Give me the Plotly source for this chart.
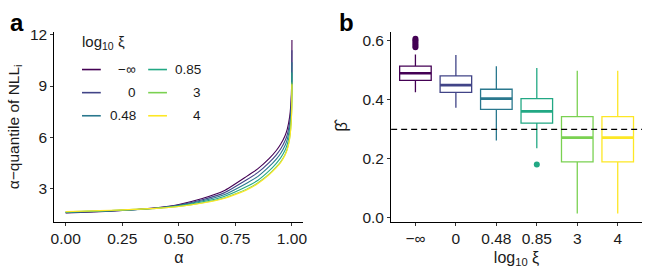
import plotly.graph_objects as go

# ---------------- data ----------------
xi_labels = ["\u2212\u221e", "0", "0.48", "0.85", "3", "4"]
colors = ["#440154", "#414487", "#2A788E", "#22A884", "#7AD151", "#FDE725"]

alpha = [0, 0.1, 0.2, 0.3, 0.4, 0.5, 0.6, 0.7, 0.8, 0.85, 0.9, 0.93, 0.95,
         0.97, 0.98, 0.99, 0.995, 0.999, 1.0]
q_neginf = [1.55, 1.60, 1.66, 1.74, 1.85, 2.05, 2.38, 2.85, 3.70, 4.15, 4.75,
            5.20, 5.58, 6.10, 6.50, 7.20, 7.90, 9.20, 11.7]
q_0 = [1.57, 1.62, 1.67, 1.74, 1.84, 2.01, 2.31, 2.73, 3.50, 3.93, 4.52,
       4.95, 5.30, 5.80, 6.18, 6.85, 7.55, 8.85, 11.1]
q_048 = [1.58, 1.63, 1.68, 1.74, 1.83, 1.99, 2.25, 2.62, 3.30, 3.70, 4.28,
         4.70, 5.04, 5.52, 5.90, 6.55, 7.20, 8.40, 10.4]
q_085 = [1.60, 1.65, 1.69, 1.75, 1.83, 1.97, 2.19, 2.52, 3.10, 3.47, 4.03,
         4.45, 4.78, 5.24, 5.60, 6.22, 6.85, 7.95, 9.8]
q_3 = [1.62, 1.66, 1.70, 1.76, 1.82, 1.94, 2.14, 2.43, 2.95, 3.32, 3.84,
       4.24, 4.55, 5.00, 5.35, 5.95, 6.55, 7.55, 9.2]
q_4 = [1.63, 1.67, 1.71, 1.76, 1.82, 1.93, 2.12, 2.40, 2.90, 3.28, 3.80,
       4.20, 4.50, 4.95, 5.30, 5.90, 6.50, 7.50, 9.1]
quantile_series = [q_neginf, q_0, q_048, q_085, q_3, q_4]

# box statistics of beta-hat per log10 xi
b_lower = [0.426, 0.373, 0.262, 0.236, 0.015, 0.015]
b_q1 = [0.466, 0.425, 0.368, 0.321, 0.190, 0.190]
b_median = [0.490, 0.450, 0.404, 0.361, 0.272, 0.272]
b_q3 = [0.514, 0.481, 0.436, 0.404, 0.343, 0.343]
b_upper = [0.554, 0.552, 0.514, 0.508, 0.499, 0.499]
b_outliers = [[0.578, 0.584, 0.590, 0.596, 0.602, 0.607], [], [], [0.181], [], []]
beta_true = 0.3

# ---------------- figure ----------------
W, H = 646, 269
fig = go.Figure()
FONT = "Liberation Sans, Arial, sans-serif"
TXT = "#1a1a1a"
TICK = 15.5

for i, ys in enumerate(quantile_series):
    fig.add_trace(go.Scatter(
        x=alpha, y=ys, mode="lines", xaxis="x", yaxis="y",
        line=dict(color=colors[i], width=1.1, shape="spline", smoothing=0.5),
        name=xi_labels[i], showlegend=False,
    ))

bw = 0.78
for i in range(len(xi_labels)):
    fig.add_trace(go.Box(
        x=[i], q1=[b_q1[i]], median=[b_median[i]], q3=[b_q3[i]],
        lowerfence=[b_lower[i]], upperfence=[b_upper[i]],
        xaxis="x2", yaxis="y2", width=bw, whiskerwidth=0,
        line=dict(color=colors[i], width=1.3), fillcolor="white",
        boxpoints=False, showlegend=False, hoverinfo="skip",
    ))
    fig.add_trace(go.Scatter(
        x=[i - bw / 2, i + bw / 2], y=[b_median[i], b_median[i]],
        mode="lines", xaxis="x2", yaxis="y2",
        line=dict(color=colors[i], width=2.6), showlegend=False, hoverinfo="skip",
    ))
    if b_outliers[i]:
        fig.add_trace(go.Scatter(
            x=[i] * len(b_outliers[i]), y=b_outliers[i], mode="markers",
            xaxis="x2", yaxis="y2",
            marker=dict(color=colors[i], size=6), showlegend=False, hoverinfo="skip",
        ))

fig.add_shape(type="line", xref="x2 domain", yref="y2", x0=0, x1=1,
              y0=beta_true, y1=beta_true, layer="above",
              line=dict(color="black", width=1.4, dash="6px,4px"))

# legend (2 columns x 3 rows, column-major), drawn as keys + labels
annotations = []
col_line_x = [(79, 98), (146, 165)]
col_label_right = [136, 201]
row_y = [66, 90, 114]
for i, lab in enumerate(xi_labels):
    c, r = divmod(i, 3)
    x0, x1 = col_line_x[c]
    fig.add_shape(type="line", xref="paper", yref="paper",
                  x0=x0 / W, x1=x1 / W, y0=1 - row_y[r] / H, y1=1 - row_y[r] / H,
                  line=dict(color=colors[i], width=1.6))
    annotations.append(dict(text=lab, x=col_label_right[c] / W, y=1 - row_y[r] / H,
                            xref="paper", yref="paper", xanchor="right",
                            yanchor="middle", showarrow=False,
                            font=dict(size=13.5, color=TXT)))

ydom = [(H - 224) / H, (H - 27) / H]
axis_common = dict(showline=True, linecolor="black", linewidth=1.1, ticks="outside",
                   ticklen=3, tickwidth=1, tickcolor="#333333", showgrid=False,
                   zeroline=False, tickfont=dict(size=TICK, color=TXT, family=FONT),
                   mirror=False)

annotations += [
    dict(text="<b>a</b>", x=13 / W, y=1 - 17 / H, xref="paper", yref="paper",
         xanchor="center", yanchor="middle", showarrow=False,
         font=dict(size=24, color="black")),
    dict(text="<b>b</b>", x=347 / W, y=1 - 17 / H, xref="paper", yref="paper",
         xanchor="center", yanchor="middle", showarrow=False,
         font=dict(size=24, color="black")),
    dict(text="log<sub>10</sub> \u03be", x=77 / W, y=1 - 38 / H, xref="paper",
         yref="paper", xanchor="left", yanchor="middle", showarrow=False,
         font=dict(size=15, color=TXT)),
]

fig.update_layout(
    width=W, height=H, margin=dict(l=0, r=0, t=0, b=0),
    plot_bgcolor="white", paper_bgcolor="white",
    font=dict(family=FONT, color=TXT), showlegend=False,
    xaxis=dict(domain=[51 / W, 303 / W], range=[-0.05, 1.05],
               tickvals=[0, 0.25, 0.5, 0.75, 1.0],
               ticktext=["0.00", "0.25", "0.50", "0.75", "1.00"],
               title=dict(text="\u03b1", font=dict(size=16, color=TXT), standoff=5),
               anchor="y", **axis_common),
    yaxis=dict(domain=ydom, range=[1.04, 12.17], tickvals=[3, 6, 9, 12],
               title=dict(text="\u03b1\u2212quantile of NLL<sub>i</sub>",
                          font=dict(size=15.5, color=TXT), standoff=6),
               anchor="x", **axis_common),
    xaxis2=dict(domain=[392 / W, 1.0], range=[-0.6, 5.6],
                tickvals=list(range(len(xi_labels))), ticktext=xi_labels,
                title=dict(text="log<sub>10</sub> \u03be", font=dict(size=16, color=TXT),
                           standoff=5),
                anchor="y2", **axis_common),
    yaxis2=dict(domain=ydom, range=[-0.013, 0.63], tickvals=[0, 0.2, 0.4, 0.6],
                ticktext=["0.0", "0.2", "0.4", "0.6"],
                title=dict(text="\u03b2\u0302", font=dict(size=17, color=TXT), standoff=10),
                anchor="x2", **axis_common),
    annotations=annotations,
)

fig.write_html("out.html", config={"displayModeBar": False},
               post_script="document.body.style.margin='0';")
